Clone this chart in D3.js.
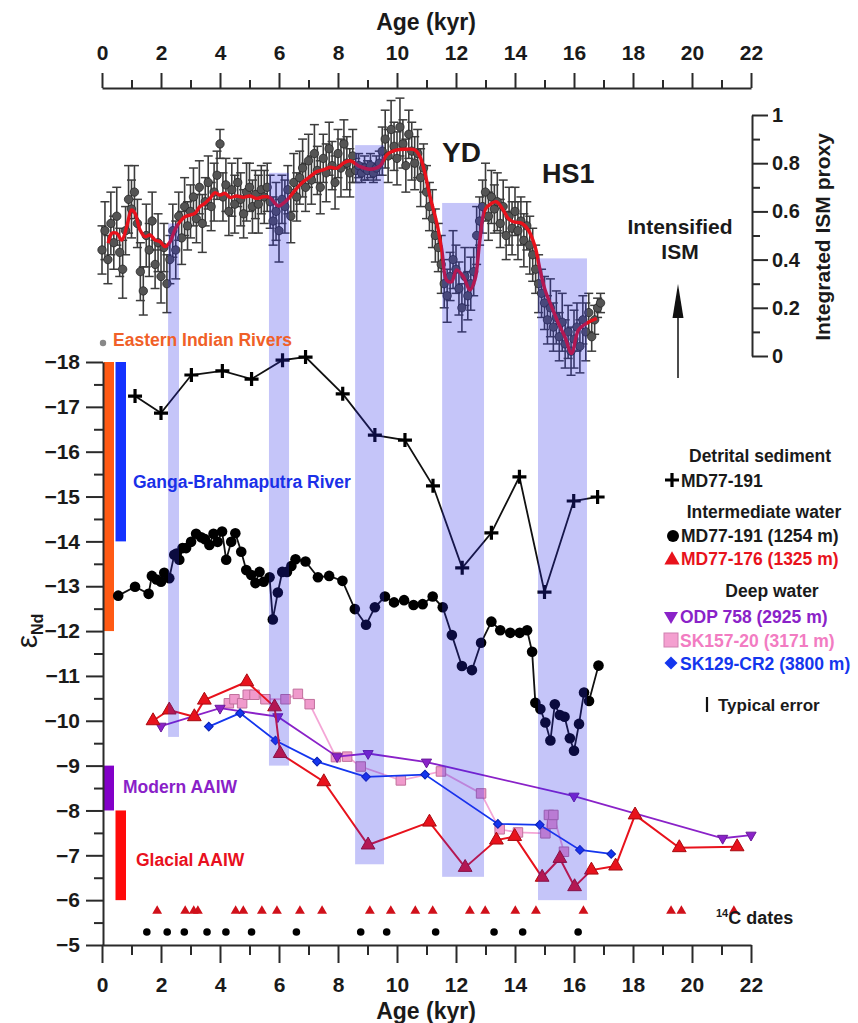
<!DOCTYPE html>
<html><head><meta charset="utf-8">
<script src="https://cdn.jsdelivr.net/npm/d3@7"></script>
<style>
body{margin:0;background:#fff}
svg text{font-family:'Liberation Sans',Arial,Helvetica,sans-serif;font-weight:bold}
</style>
</head><body>
<svg id="c" width="858" height="1023"></svg>
<script>
// ---------------- DATA ----------------
const ageTicks = [0,2,4,6,8,10,12,14,16,18,20,22];
const ndTicks = [-18,-17,-16,-15,-14,-13,-12,-11,-10,-9,-8,-7,-6,-5];
const ismTicks = [0,0.2,0.4,0.6,0.8,1];

// Integrated ISM proxy (individual estimates with errors)
const ismAge = [0.0,0.1,0.2,0.3,0.4,0.5,0.6,0.7,0.8,0.9,
1.0,1.1,1.2,1.3,1.4,1.5,1.6,1.7,1.8,1.9,
2.0,2.1,2.2,2.3,2.4,2.5,2.6,2.7,2.8,2.9,
3.0,3.1,3.2,3.3,3.4,3.5,3.6,3.7,3.8,3.9,
4.0,4.1,4.2,4.3,4.4,4.5,4.6,4.7,4.8,4.9,
5.0,5.1,5.2,5.3,5.4,5.5,5.6,5.7,5.8,5.9,
6.0,6.1,6.2,6.3,6.4,6.5,6.6,6.7,6.8,6.9,
7.0,7.1,7.2,7.3,7.4,7.5,7.6,7.7,7.8,7.9,
8.0,8.1,8.2,8.3,8.4,8.5,8.6,8.7,8.8,8.9,
9.0,9.1,9.2,9.3,9.4,9.5,9.6,9.7,9.8,9.9,
10.0,10.1,10.2,10.3,10.4,10.5,10.6,10.7,10.8,10.9,
11.0,11.1,11.2,11.3,11.4,11.5,11.6,11.7,11.8,11.9,
12.0,12.1,12.2,12.3,12.4,12.5,12.6,12.7,12.8,12.9,
13.0,13.1,13.2,13.3,13.4,13.5,13.6,13.7,13.8,13.9,
14.0,14.1,14.2,14.3,14.4,14.5,14.6,14.7,14.8,14.9,
15.0,15.1,15.2,15.3,15.4,15.5,15.6,15.7,15.8,15.9,
16.0,16.1,16.2,16.3,16.4,16.5,16.6,16.7,16.8,16.9];
const ismVal = [0.44,0.52,0.40,0.55,0.47,0.58,0.43,0.36,0.52,0.65,
0.61,0.68,0.55,0.35,0.27,0.50,0.44,0.56,0.38,0.47,
0.33,0.45,0.30,0.40,0.52,0.44,0.58,0.49,0.62,0.54,
0.60,0.66,0.57,0.70,0.55,0.64,0.72,0.62,0.68,0.75,
0.88,0.66,0.71,0.60,0.69,0.63,0.72,0.65,0.59,0.68,
0.70,0.62,0.67,0.63,0.69,0.66,0.70,0.64,0.56,0.60,
0.52,0.65,0.62,0.69,0.58,0.72,0.66,0.74,0.78,0.70,
0.81,0.73,0.84,0.77,0.70,0.82,0.76,0.86,0.79,0.72,
0.84,0.78,0.88,0.80,0.76,0.83,0.77,0.79,0.76,0.78,
0.77,0.79,0.76,0.78,0.80,0.85,0.90,0.83,0.94,0.87,
0.82,0.95,0.88,0.79,0.92,0.85,0.80,0.84,0.74,0.78,
0.68,0.62,0.57,0.50,0.45,0.38,0.30,0.25,0.33,0.40,
0.36,0.28,0.20,0.33,0.25,0.30,0.35,0.50,0.56,0.62,
0.68,0.58,0.66,0.61,0.64,0.55,0.62,0.50,0.58,0.53,
0.60,0.52,0.56,0.48,0.54,0.46,0.42,0.36,0.30,0.26,
0.22,0.15,0.20,0.12,0.16,0.08,0.14,0.05,0.10,0.02,
0.07,0.12,0.04,0.15,0.10,0.18,0.08,0.15,0.20,0.22];
const ismErr = [0.10,0.12,0.10,0.13,0.11,0.12,0.10,0.12,0.10,0.14,
0.12,0.11,0.10,0.12,0.10,0.13,0.11,0.12,0.10,0.12,
0.11,0.10,0.12,0.10,0.11,0.12,0.10,0.11,0.12,0.10,
0.11,0.12,0.10,0.11,0.12,0.10,0.11,0.10,0.12,0.10,
0.06,0.10,0.11,0.10,0.11,0.12,0.10,0.11,0.10,0.12,
0.10,0.11,0.10,0.12,0.10,0.11,0.10,0.11,0.10,0.12,
0.13,0.10,0.11,0.10,0.11,0.12,0.10,0.11,0.12,0.10,
0.11,0.10,0.12,0.10,0.11,0.10,0.12,0.11,0.10,0.11,
0.10,0.12,0.10,0.11,0.10,0.11,0.05,0.05,0.04,0.05,
0.04,0.05,0.04,0.05,0.05,0.10,0.12,0.11,0.12,0.10,
0.11,0.12,0.10,0.11,0.10,0.12,0.11,0.10,0.12,0.10,
0.11,0.10,0.12,0.11,0.10,0.12,0.10,0.11,0.10,0.12,
0.10,0.11,0.10,0.12,0.10,0.11,0.10,0.12,0.10,0.11,
0.12,0.10,0.11,0.10,0.12,0.10,0.11,0.10,0.12,0.11,
0.10,0.12,0.10,0.11,0.10,0.12,0.11,0.10,0.12,0.10,
0.11,0.10,0.12,0.10,0.11,0.10,0.12,0.10,0.11,0.10,
0.12,0.10,0.11,0.10,0.12,0.08,0.06,0.06,0.04,0.04];

// Smoothed ISM curve
const smAge = [0.21,0.33,0.5,0.67,0.84,1.0,1.12,1.29,1.46,1.63,1.8,1.97,2.14,2.31,2.47,2.64,2.81,2.98,3.15,3.32,3.49,3.66,3.83,4.0,4.17,4.34,4.56,4.79,5.02,5.24,5.47,5.69,5.86,5.98,6.15,6.37,6.6,6.82,7.05,7.28,7.5,7.73,7.96,8.18,8.41,8.75,9.08,9.42,9.65,9.99,10.33,10.61,10.78,10.95,11.12,11.35,11.52,11.68,11.85,12.02,12.25,12.47,12.64,12.81,12.98,13.21,13.38,13.6,13.77,13.94,14.23,14.45,14.68,14.85,15.02,15.24,15.47,15.69,15.92,16.15,16.43,16.77];
const smVal = [0.468,0.509,0.509,0.481,0.537,0.606,0.592,0.523,0.495,0.502,0.481,0.474,0.454,0.474,0.523,0.557,0.578,0.585,0.592,0.62,0.634,0.654,0.678,0.668,0.675,0.658,0.664,0.658,0.664,0.654,0.661,0.658,0.634,0.622,0.634,0.661,0.696,0.723,0.744,0.765,0.772,0.783,0.779,0.8,0.81,0.786,0.775,0.788,0.834,0.855,0.858,0.855,0.827,0.758,0.661,0.551,0.44,0.315,0.308,0.357,0.329,0.274,0.315,0.481,0.606,0.634,0.64,0.606,0.571,0.557,0.551,0.523,0.454,0.357,0.274,0.205,0.136,0.08,0.011,0.108,0.136,0.156];

// Detrital sediment MD77-191
const detAge = [1.12,2.0,3.03,4.08,5.07,6.12,6.9,8.16,9.25,10.27,11.22,12.21,13.2,14.15,15.0,15.99,16.8];
const detNd  = [-17.24,-16.86,-17.71,-17.8,-17.62,-18.04,-18.11,-17.29,-16.37,-16.26,-15.24,-13.41,-14.19,-15.44,-12.87,-14.9,-14.99];

// Intermediate water MD77-191 (1254 m)
const md191Age = [0.55,1.12,1.58,1.69,1.85,2.0,2.11,2.28,2.45,2.53,2.62,2.73,2.85,3.02,3.19,3.36,3.49,3.64,3.78,3.92,4.07,4.21,4.38,4.52,4.72,4.89,5.06,5.2,5.34,5.48,5.68,5.79,5.96,6.11,6.27,6.42,6.56,6.9,7.32,7.7,8.15,8.57,8.95,9.25,9.59,9.9,10.24,10.56,10.87,11.21,11.55,11.86,12.2,12.54,12.85,13.2,13.5,13.84,14.16,14.41,14.58,14.69,14.86,15.03,15.2,15.35,15.52,15.68,15.86,16.0,16.17,16.34,16.51,16.83];
const md191Nd  = [-12.79,-12.99,-12.83,-13.23,-13.15,-13.1,-13.30,-13.18,-13.70,-13.73,-13.59,-13.85,-13.85,-13.99,-14.17,-14.09,-14.05,-13.92,-14.17,-13.99,-14.22,-13.59,-13.99,-14.18,-13.77,-13.36,-13.25,-13.07,-13.32,-13.1,-13.2,-12.26,-12.86,-13.32,-13.32,-13.45,-13.6,-13.55,-13.2,-13.23,-13.12,-12.49,-12.14,-12.53,-12.77,-12.64,-12.69,-12.58,-12.6,-12.77,-12.53,-11.91,-11.22,-11.13,-11.74,-12.21,-12.02,-11.96,-11.96,-12.02,-11.54,-10.40,-10.26,-9.96,-9.56,-10.37,-10.13,-10.09,-9.61,-9.33,-9.93,-10.63,-10.44,-11.23];

// Intermediate water MD77-176 (1325 m)
const md176Age = [1.73,2.28,3.13,3.47,4.91,5.85,6.04,7.52,9.02,11.1,12.31,13.37,13.99,14.92,15.52,16.02,16.59,17.41,18.07,19.57,21.53];
const md176Nd  = [-10.0,-10.24,-10.09,-10.46,-10.87,-10.31,-9.27,-8.64,-7.23,-7.74,-6.73,-7.34,-7.42,-6.51,-6.93,-6.30,-6.67,-6.76,-7.90,-7.17,-7.19];

// Deep water ODP 758 (2925 m)
const odpAge = [2.0,4.0,5.96,7.97,9.02,11.0,16.0,21.04,22.0];
const odpNd  = [-9.88,-10.28,-10.09,-9.2,-9.27,-9.08,-8.32,-7.38,-7.45];

// Deep water SK157-20 (3171 m)
const sk157Age = [4.3,4.49,4.75,4.94,5.17,5.54,6.22,6.64,7.04,7.93,8.31,8.77,10.13,11.49,12.85,13.48,14.1,15.03,15.15,15.26,15.3,15.66];
const sk157Nd  = [-10.39,-10.48,-10.39,-10.58,-10.58,-10.48,-10.48,-10.60,-10.37,-9.19,-9.2,-8.98,-8.67,-8.87,-8.38,-7.58,-7.51,-7.49,-7.9,-7.7,-7.9,-7.08];

// Deep water SK129-CR2 (3800 m)
const sk129Age = [3.62,4.68,5.88,7.29,8.95,10.95,13.42,14.84,16.2,17.26];
const sk129Nd  = [-9.87,-10.17,-9.56,-9.09,-8.75,-8.8,-7.7,-7.68,-7.12,-7.03];

// 14C dates
const c14RedAge = [1.87,2.82,3.11,3.25,4.53,4.79,5.42,5.93,6.71,7.46,9.08,9.79,10.62,11.21,12.47,12.99,14.01,14.71,16.32,19.29,19.64,21.42];
const c14BlackAge = [1.52,2.21,2.79,3.56,4.2,5.07,6.59,8.77,9.65,11.31,13.29,14.26,16.14];
const c14RedNd = -5.76, c14BlackNd = -5.29;

// Shaded intervals (age start, age end, ISM top, eNd bottom)
const bandStart = [2.24,5.66,8.58,11.53,14.78];
const bandEnd   = [2.61,6.34,9.56,12.95,16.44];
const bandTopISM = [0.55,0.76,0.875,0.635,0.405];
const bandBotNd  = [-9.64,-9.0,-6.8,-6.52,-6.0];

// End-member ranges
const emLabels = ["Eastern Indian Rivers","Ganga-Brahmaputra River","Modern AAIW","Glacial AAIW"];
const emTop = [-18,-18,-9,-8];
const emBot = [-12,-14,-8,-6];
const emCol = ["#ff5a14","#1432ff","#8200c8","#ff0a0a"];

// ---------------- DRAW ----------------
const FONT = "'Liberation Sans',Arial,Helvetica,sans-serif";
const svg = d3.select('#c');
const x = d3.scaleLinear().domain([0,22]).range([102,751]);
const yNd = d3.scaleLinear().domain([-18,-5]).range([362,945]);
const yI = d3.scaleLinear().domain([0,1]).range([356,115]);

const RED = "#e8121c", PURP = "#8a22c8", PINK = "#f27cc2", BLUE = "#1436ee";

// end-member bars
const emCols = [0,1,0,1];
const emX = [x(0)+1.5, x(0)+13.5];
emLabels.forEach((l,i)=>{
  svg.append('rect').attr('x',emX[emCols[i]]).attr('width',10.5)
    .attr('y',yNd(emTop[i])).attr('height',yNd(emBot[i])-yNd(emTop[i]))
    .attr('fill',emCol[i]);
});

// ISM error bars & points
const gI = svg.append('g');
ismAge.forEach((a,i)=>{
  const cx = x(a), y0 = yI(ismVal[i]-ismErr[i]), y1 = yI(ismVal[i]+ismErr[i]);
  gI.append('line').attr('x1',cx).attr('x2',cx).attr('y1',y0).attr('y2',y1).attr('stroke','#3c3c3c').attr('stroke-width',1.6);
  gI.append('line').attr('x1',cx-4.5).attr('x2',cx+4.5).attr('y1',y0).attr('y2',y0).attr('stroke','#3c3c3c').attr('stroke-width',1.5);
  gI.append('line').attr('x1',cx-4.5).attr('x2',cx+4.5).attr('y1',y1).attr('y2',y1).attr('stroke','#3c3c3c').attr('stroke-width',1.5);
});
ismAge.forEach((a,i)=>{
  gI.append('circle').attr('cx',x(a)).attr('cy',yI(ismVal[i])).attr('r',4.2)
    .attr('fill','#545454').attr('stroke','#262626').attr('stroke-width',0.8);
});
svg.append('path').datum(smAge.map((a,i)=>[a,smVal[i]]))
  .attr('d',d3.line().x(d=>x(d[0])).y(d=>yI(d[1])).curve(d3.curveCatmullRom))
  .attr('fill','none').attr('stroke',RED).attr('stroke-width',3.4);

// eNd series
function series(ages, vals, color, width){
  svg.append('path').datum(ages.map((a,i)=>[a,vals[i]]))
    .attr('d',d3.line().x(d=>x(d[0])).y(d=>yNd(d[1])))
    .attr('fill','none').attr('stroke',color).attr('stroke-width',width);
}
function symbols(ages, vals, type, size, fill, stroke, rot){
  const sym = d3.symbol().type(type).size(size);
  ages.forEach((a,i)=>{
    svg.append('path').attr('d',sym())
      .attr('transform',`translate(${x(a)},${yNd(vals[i])}) rotate(${rot||0})`)
      .attr('fill',fill).attr('stroke',stroke).attr('stroke-width',1);
  });
}
series(sk157Age, sk157Nd, "#f4a6d6", 1.8);
symbols(sk157Age, sk157Nd, d3.symbolSquare, 90, "#f09acc", "#c0709c");
series(odpAge, odpNd, PURP, 1.8);
symbols(odpAge, odpNd, d3.symbolTriangle, 45, PURP, "#6a1a9a", 180);
series(sk129Age, sk129Nd, BLUE, 1.8);
symbols(sk129Age, sk129Nd, d3.symbolSquare, 38, BLUE, "#0a20b0", 45);
series(md176Age, md176Nd, RED, 2);
symbols(md176Age, md176Nd, d3.symbolTriangle, 82, RED, "#a80a10");

series(md191Age, md191Nd, "#111", 1.8);
md191Age.forEach((a,i)=>{
  svg.append('circle').attr('cx',x(a)).attr('cy',yNd(md191Nd[i])).attr('r',5.3).attr('fill','#000');
});
series(detAge, detNd, "#111", 1.8);
const crossPath = "M-7,0H7M0,-7V7";
detAge.forEach((a,i)=>{
  svg.append('path').attr('d',crossPath).attr('transform',`translate(${x(a)},${yNd(detNd[i])})`)
    .attr('stroke','#000').attr('stroke-width',3.2).attr('fill','none');
});

// 14C dates
const triSmall = d3.symbol().type(d3.symbolTriangle).size(42);
c14RedAge.forEach(a=>{
  svg.append('path').attr('d',triSmall()).attr('transform',`translate(${x(a)},${yNd(c14RedNd)})`).attr('fill','#d0101a');
});
c14BlackAge.forEach(a=>{
  svg.append('circle').attr('cx',x(a)).attr('cy',yNd(c14BlackNd)).attr('r',3.8).attr('fill','#000');
});

// shaded bands (overlay)
bandStart.forEach((s,i)=>{
  svg.append('rect').attr('x',x(s)).attr('width',x(bandEnd[i])-x(s))
    .attr('y',yI(bandTopISM[i])).attr('height',yNd(bandBotNd[i])-yI(bandTopISM[i]))
    .attr('fill','rgb(40,40,232)').attr('fill-opacity',0.27);
});

// ---------------- AXES ----------------
function styleAxis(g, fs){
  g.select('.domain').attr('stroke','#2a2a2a').attr('stroke-width',2);
  g.selectAll('.tick line').attr('stroke','#2a2a2a').attr('stroke-width',2);
  g.selectAll('.tick text').attr('fill','#1a1a1a').style('font-size',fs+'px').style('font-family',FONT).style('font-weight','bold');
}
const minorAge = d3.range(1,22,2);
let g = svg.append('g').attr('transform','translate(0,945)')
  .call(d3.axisBottom(x).tickValues(ageTicks).tickSize(18).tickSizeOuter(0).tickPadding(14).tickFormat(d3.format('d')));
styleAxis(g,21);
g = svg.append('g').attr('transform','translate(0,945)')
  .call(d3.axisBottom(x).tickValues(minorAge).tickSize(10).tickSizeOuter(0).tickFormat(''));
styleAxis(g,21); g.select('.domain').remove();
g = svg.append('g').attr('transform','translate(0,88)')
  .call(d3.axisTop(x).tickValues(ageTicks).tickSize(15).tickSizeOuter(0).tickPadding(13).tickFormat(d3.format('d')));
styleAxis(g,21);
g = svg.append('g').attr('transform','translate(0,88)')
  .call(d3.axisTop(x).tickValues(minorAge).tickSize(8).tickSizeOuter(0).tickFormat(''));
styleAxis(g,21); g.select('.domain').remove();
g = svg.append('g').attr('transform','translate(103,0)')
  .call(d3.axisLeft(yNd).tickValues(ndTicks).tickSize(17).tickSizeOuter(0).tickPadding(6).tickFormat(d3.format('d')));
styleAxis(g,21);
g = svg.append('g').attr('transform','translate(103,0)')
  .call(d3.axisLeft(yNd).tickValues(d3.range(-17.5,-5,1)).tickSize(9).tickSizeOuter(0).tickFormat(''));
styleAxis(g,21); g.select('.domain').remove();
g = svg.append('g').attr('transform','translate(752,0)')
  .call(d3.axisRight(yI).tickValues(ismTicks).tickSize(16).tickSizeOuter(0).tickPadding(4)
    .tickFormat(d=> (d===0||d===1)? String(d) : d.toFixed(1)));
styleAxis(g,20);
g = svg.append('g').attr('transform','translate(752,0)')
  .call(d3.axisRight(yI).tickValues([0.1,0.3,0.5,0.7,0.9]).tickSize(8).tickSizeOuter(0).tickFormat(''));
styleAxis(g,20); g.select('.domain').remove();

function txt(xp, yp, s, size, color, anchor){
  return svg.append('text').attr('x',xp).attr('y',yp).text(s)
    .style('font-size',size+'px').attr('fill',color||'#1a1a1a').attr('text-anchor',anchor||'start');
}
txt(426,30,'Age (kyr)',23,'#1a1a1a','middle');
txt(426,1019,'Age (kyr)',23,'#1a1a1a','middle');
svg.append('text').attr('transform','translate(830,237) rotate(-90)').attr('text-anchor','middle')
  .style('font-size','21px').attr('fill','#1a1a1a').text('Integrated ISM proxy');
const eps = svg.append('text').attr('transform','translate(37,631) rotate(-90)').attr('text-anchor','middle').attr('fill','#1a1a1a');
eps.append('tspan').text('ε').style('font-size','30px').style('font-weight','normal');
eps.append('tspan').text('Nd').style('font-size','16px').attr('dy',6);

txt(442,162,'YD',28);
txt(542,183,'HS1',27);
txt(680,234,'Intensified',21,'#1a1a1a','middle');
txt(680,259,'ISM',21,'#1a1a1a','middle');
svg.append('line').attr('x1',678).attr('x2',678).attr('y1',378).attr('y2',312).attr('stroke','#111').attr('stroke-width',1.5);
svg.append('path').attr('d','M678,284L672.5,318L683.5,318Z').attr('fill','#111');

svg.append('circle').attr('cx',103).attr('cy',343).attr('r',3.2).attr('fill','#888');
txt(113,346,emLabels[0],17.5,'#f06028');
txt(133,488,emLabels[1],17.5,'#1a30e8');
txt(123,793,emLabels[2],17.5,'#8a1fc8');
txt(136,866,emLabels[3],17.5,'#e81020');

// legend
txt(760,462,'Detrital sediment',17.5,'#1a1a1a','middle');
svg.append('path').attr('d',crossPath).attr('transform','translate(672,480)').attr('stroke','#000').attr('stroke-width',3.2);
txt(681,487,'MD77-191',17.5);
txt(764,518,'Intermediate water',17.5,'#1a1a1a','middle');
svg.append('circle').attr('cx',673).attr('cy',536).attr('r',6).attr('fill','#000');
txt(681,542,'MD77-191 (1254 m)',17.5);
svg.append('path').attr('d',d3.symbol().type(d3.symbolTriangle).size(100)()).attr('transform','translate(672,560)').attr('fill',RED);
txt(681,565,'MD77-176 (1325 m)',17.5,RED);
txt(772,597,'Deep water',17.5,'#1a1a1a','middle');
svg.append('path').attr('d',d3.symbol().type(d3.symbolTriangle).size(85)()).attr('transform','translate(671,616) rotate(180)').attr('fill',PURP);
txt(680,623,'ODP 758 (2925 m)',17.5,PURP);
svg.append('rect').attr('x',664).attr('y',633).attr('width',14).attr('height',14).attr('fill','#f4a0d0').attr('stroke','#d080b0');
txt(680,647,'SK157-20 (3171 m)',17.5,PINK);
svg.append('path').attr('d',d3.symbol().type(d3.symbolSquare).size(85)()).attr('transform','translate(671,663) rotate(45)').attr('fill',BLUE);
txt(680,670,'SK129-CR2 (3800 m)',17.5,BLUE);
svg.append('line').attr('x1',707).attr('x2',707).attr('y1',697).attr('y2',712).attr('stroke','#111').attr('stroke-width',2.2);
txt(718,711,'Typical error',17);

const c14 = svg.append('text').attr('x',716).attr('y',924).attr('fill','#1a1a1a').style('font-size','18px');
c14.append('tspan').text('14').style('font-size','11px').attr('dy',-7);
c14.append('tspan').text('C dates').attr('dy',7);
</script>
</body></html>
